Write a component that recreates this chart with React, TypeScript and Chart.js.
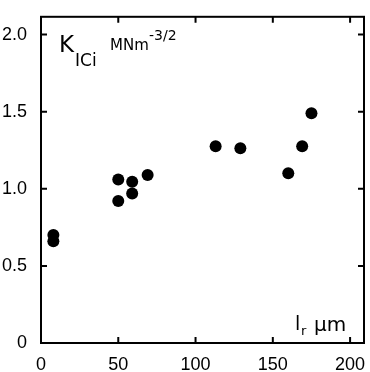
import React, { useEffect, useRef } from "react";
import { Chart, registerables } from "chart.js";

Chart.register(...registerables);

const xValues = [8, 8, 50, 50, 59, 59, 69, 113, 129, 160, 169, 175];
const yValues = [0.7, 0.66, 1.06, 0.92, 1.045, 0.97, 1.09, 1.275, 1.263, 1.1, 1.276, 1.49];
const xTicks = [0, 50, 100, 150, 200];
const yTicks = [0, 0.5, 1.0, 1.5, 2.0];
const yTickLabels = ["0", "0.5", "1.0", "1.5", "2.0"];

const FONT = "'Liberation Sans', Arial, sans-serif";
const AFONT = "'DejaVu Sans', sans-serif";

const framePlugin = {
  id: "frameTicks",
  afterDraw(chart: any) {
    const ctx = chart.ctx;
    const a = chart.chartArea;
    const xs = chart.scales.x;
    const ys = chart.scales.y;
    ctx.save();
    ctx.strokeStyle = "#000";
    ctx.lineWidth = 2;
    ctx.strokeRect(a.left, a.top, a.right - a.left, a.bottom - a.top);
    const L = 6;
    ctx.beginPath();
    xTicks.forEach((v) => {
      if (v === 0) return;
      const px = xs.getPixelForValue(v);
      ctx.moveTo(px, a.bottom);
      ctx.lineTo(px, a.bottom - L);
      ctx.moveTo(px, a.top);
      ctx.lineTo(px, a.top + L);
    });
    yTicks.forEach((v) => {
      if (v === 0) return;
      const py = ys.getPixelForValue(v);
      ctx.moveTo(a.left, py);
      ctx.lineTo(a.left + L, py);
      ctx.moveTo(a.right, py);
      ctx.lineTo(a.right - L, py);
    });
    ctx.stroke();

    ctx.fillStyle = "#000";
    ctx.textBaseline = "alphabetic";
    ctx.textAlign = "left";
    ctx.font = `23px ${AFONT}`;
    ctx.fillText("K", 59, 52);
    ctx.font = `17px ${AFONT}`;
    ctx.fillText("ICi", 75, 66);
    ctx.font = `15px ${AFONT}`;
    ctx.fillText("MNm", 110, 50);
    ctx.font = `14px ${AFONT}`;
    ctx.fillText("-3/2", 149, 40);

    ctx.font = `19px ${AFONT}`;
    ctx.fillText("l", 295, 330);
    ctx.font = `13px ${AFONT}`;
    ctx.fillText("r", 301, 335);
    ctx.font = `20px ${AFONT}`;
    ctx.fillText("\u03bcm", 314, 331);
    ctx.restore();
  },
};

export default function App() {
  const ref = useRef<HTMLCanvasElement>(null);
  useEffect(() => {
    if (!ref.current) return;
    const chart = new Chart(ref.current, {
      type: "scatter",
      data: {
        datasets: [
          {
            data: xValues.map((x, i) => ({ x, y: yValues[i] })),
            backgroundColor: "#000",
            borderWidth: 0,
            pointRadius: 6,
          },
        ],
      },
      options: {
        responsive: false,
        animation: false,
        layout: { padding: { top: 13, right: 3, left: 0, bottom: 0 } },
        plugins: { legend: { display: false }, tooltip: { enabled: false } },
        scales: {
          x: {
            type: "linear",
            min: 0,
            max: 209,
            grid: { display: false },
            border: { display: false },
            afterBuildTicks: (s: any) => {
              s.ticks = xTicks.map((v) => ({ value: v }));
            },
            afterFit: (s: any) => {
              s.height = 29;
            },
            ticks: {
              color: "#000",
              font: { family: FONT, size: 18 },
              padding: 3,
              maxRotation: 0,
              callback: (v: any) => String(v),
            },
          },
          y: {
            type: "linear",
            min: 0,
            max: 2.115,
            grid: { display: false },
            border: { display: false },
            afterBuildTicks: (s: any) => {
              s.ticks = yTicks.map((v) => ({ value: v }));
            },
            afterFit: (s: any) => {
              s.width = 41;
            },
            ticks: {
              color: "#000",
              font: { family: FONT, size: 18 },
              padding: 6,
              callback: (v: any) => {
                const i = yTicks.findIndex((t) => Math.abs(t - v) < 1e-6);
                return i >= 0 ? yTickLabels[i] : "";
              },
            },
          },
        },
      },
      plugins: [framePlugin],
    });
    return () => chart.destroy();
  }, []);
  return (
    <div style={{ position: "absolute", left: 0, top: 0, width: 370, height: 372, background: "#fff" }}>
      <canvas ref={ref} width={370} height={372} />
    </div>
  );
}
